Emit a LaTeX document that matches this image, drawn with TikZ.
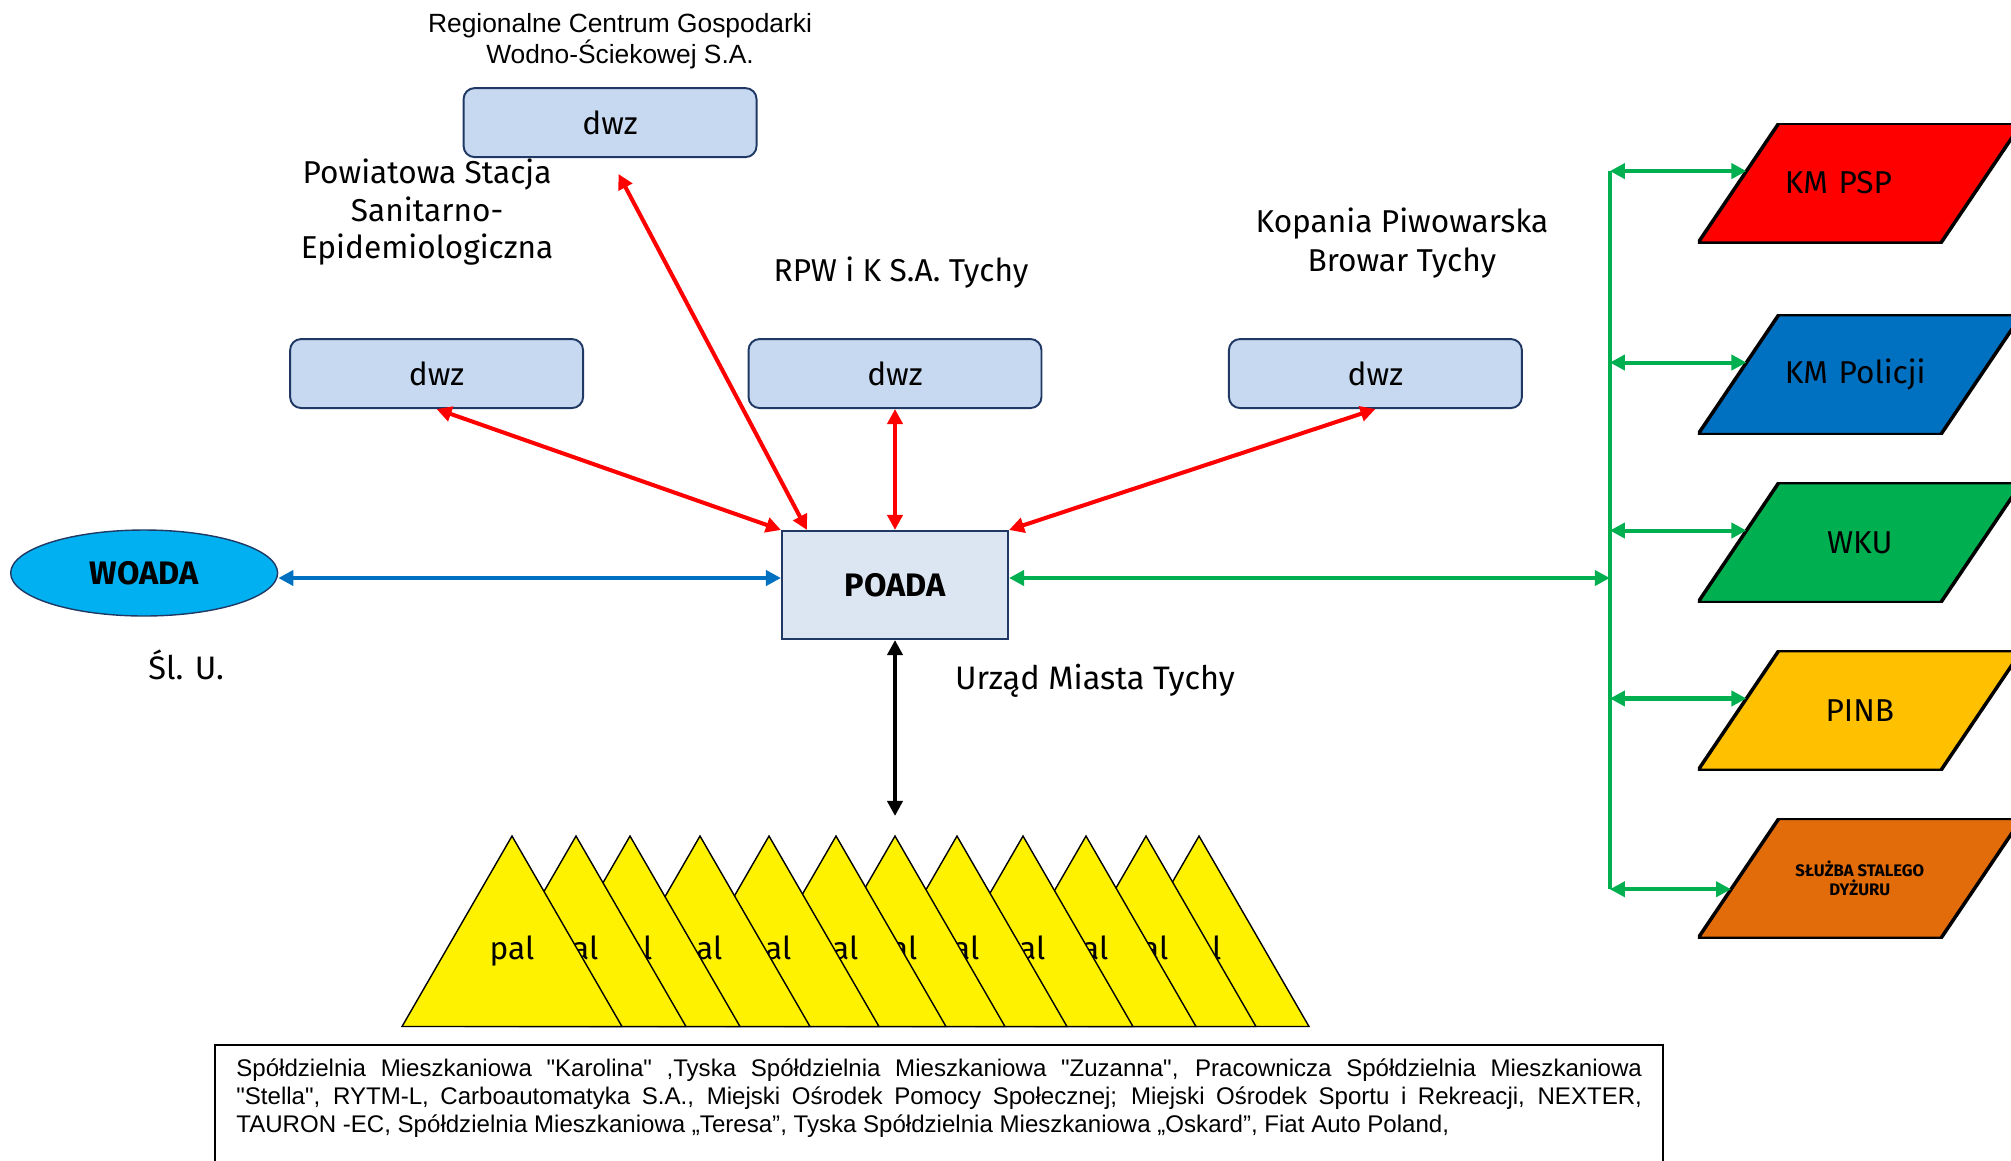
\documentclass[tikz,border=0pt]{standalone}
\usepackage{fontspec}
\setmainfont{Fira Sans}
\newfontfamily\arialfont{Liberation Sans}
\usepackage{tikz}
\usetikzlibrary{positioning, calc, shapes.geometric, arrows.meta}

\definecolor{czerwony}{HTML}{FF0000}
\definecolor{niebieski}{HTML}{0070C0}
\definecolor{zielony}{HTML}{00B050}
\definecolor{blekit}{HTML}{00B0F0}
\definecolor{zolty}{HTML}{FFC000}
\definecolor{pomarancz}{HTML}{E36C0A}
\definecolor{dwzfill}{HTML}{C6D9F1}
\definecolor{poadafill}{HTML}{DCE6F2}
\definecolor{ramka}{HTML}{1F3864}

\tikzset{
  dwz/.style={draw=ramka, line width=1.1pt, fill=dwzfill, rounded corners=0.22cm,
    minimum width=5.86cm, minimum height=1.38cm, font=\fontsize{18}{21.6}\selectfont},
  opis/.style={align=center, font=\fontsize{18}{21.6}\selectfont},
  sluzba/.style={rectangle, minimum width=6.48cm, minimum height=2.4cm,
    inner sep=0pt, outer sep=0pt, fill=white, font=\fontsize{18}{21.6}\selectfont,
    path picture={\filldraw[fill=#1, draw=black, line width=2pt]
      (path picture bounding box.south west) -- ++(4.86cm,0)
      -- (path picture bounding box.north east) -- ++(-4.86cm,0) -- cycle;}},
  pal/.style={regular polygon, regular polygon sides=3, minimum size=5.08cm,
    inner sep=0pt, text depth=0.6cm, draw=black, line width=0.8pt, fill=yellow,
    font=\fontsize{18}{21.6}\selectfont},
  link/.style={<->, >={Triangle[length=0.3cm, width=0.3cm]}, line width=2.3pt},
}

\begin{document}
\begin{tikzpicture}[x=0.02cm, y=-0.02cm, on grid]
    \useasboundingbox (0,0) rectangle (2011,1160);

                % Noeuds principaux
                \node[draw=ramka, line width=1.2pt, fill=poadafill, minimum width=4.52cm,
                  minimum height=2.16cm, font=\bfseries\fontsize{18.5}{22}\selectfont]
                  (poada) at (895,585) {POADA};
                \node[ellipse, draw=ramka, line width=0.8pt, fill=blekit, minimum width=5.34cm,
                  minimum height=1.72cm, inner sep=0pt, font=\bfseries\fontsize{18.5}{22}\selectfont,
                  above left=0.24cm and 15.02cm of poada] (woada) {WOADA};
                \node[dwz, above=4.23cm of poada] (dwzM) {dwz};
                \node[dwz, above left=4.23cm and 9.17cm of poada] (dwzL) {dwz};
                \node[dwz, above right=4.23cm and 9.61cm of poada] (dwzR) {dwz};
                \node[dwz, above left=9.25cm and 5.7cm of poada] (dwzG) {dwz};

                % Opisy
                \node[align=center, font=\arialfont\fontsize{15}{17.6}\selectfont,
                  above right=1.62cm and 0.2cm of dwzG] (rcgws)
                  {Regionalne Centrum Gospodarki\\Wodno-Ściekowej S.A.};
                \node[opis, above left=3.23cm and 0.19cm of dwzL] (psse)
                  {Powiatowa Stacja\\Sanitarno-\\Epidemiologiczna};
                \node[opis, above right=2.03cm and 0.12cm of dwzM] (rpwik) {RPW i K S.A. Tychy};
                \node[opis, font=\fontsize{18}{22.6}\selectfont,
                  above right=2.61cm and 0.53cm of dwzR] (kp)
                  {Kopania Piwowarska\\Browar Tychy};
                \node[opis, font=\fontsize{18.5}{22}\selectfont,
                  below right=1.84cm and 0.84cm of woada] (slu) {Śl. U.};
                \node[opis, font=\fontsize{18.5}{22}\selectfont,
                  below right=1.92cm and 4cm of poada] (umt) {Urząd Miasta Tychy};

                % Sluzby
                \node[sluzba=czerwony, align=left, text width=3cm,
                  above right=8.04cm and 19.3cm of poada] (psp) {KM PSP};
                \node[sluzba=niebieski, align=left, text width=3cm,
                  below=3.83cm of psp] (policja) {KM Policji};
                \node[sluzba=zielony, below=3.36cm of policja] (wku) {WKU};
                \node[sluzba=zolty, below=3.36cm of wku] (pinb) {PINB};
                \node[sluzba=pomarancz, align=center,
                  font=\bfseries\fontsize{9.5}{10.8}\selectfont,
                  below=3.36cm of pinb] (ssd) {SŁUŻBA STALEGO\\DYŻURU};

                \coordinate[above right=0.14cm and 14.3cm of poada] (szyna);
                \coordinate[below=4.62cm of poada] (dol);
                \coordinate (k1) at ($(psp.south west)!0.6!([xshift=1.62cm]psp.north west)$);
                \coordinate (k2) at ($(policja.south west)!0.6!([xshift=1.62cm]policja.north west)$);
                \coordinate (k3) at ($(wku.south west)!0.6!([xshift=1.62cm]wku.north west)$);
                \coordinate (k4) at ($(pinb.south west)!0.6!([xshift=1.62cm]pinb.north west)$);
                \coordinate (k5) at ($(ssd.south west)!0.41!([xshift=1.62cm]ssd.north west)$);

                % Palety
                \foreach \x [count=\i] in {1199,1146,1086,1023,957,895,836,769,700,630,576,512}
                  \node[pal] (pal\i) at (\x,963) {pal};

                % Lista firm
                \node[anchor=north west, text width=28.12cm, align=justify, inner xsep=0.42cm,
                  inner ysep=0.27cm, font=\arialfont\fontsize{13.7}{15.9}\selectfont]
                  (firmy) at (215,1045)
                  {Spółdzielnia Mieszkaniowa "Karolina" ,Tyska Spółdzielnia Mieszkaniowa "Zuzanna", Pracownicza Spółdzielnia Mieszkaniowa\linebreak
                  "Stella", RYTM-L, Carboautomatyka S.A., Miejski Ośrodek Pomocy Społecznej; Miejski Ośrodek Sportu i Rekreacji, NEXTER,\linebreak
                  TAURON -EC, Spółdzielnia Mieszkaniowa „Teresa”, Tyska Spółdzielnia Mieszkaniowa „Oskard”, Fiat Auto Poland,};
                \draw[line width=1.1pt] (firmy.north west) rectangle ([yshift=-2cm]firmy.south east);

                % Polaczenia
                \path[link, czerwony]
                (poada.north west) edge (dwzL.south)
                ([xshift=0.52cm]poada.north west) edge[shorten >=0.36cm] (dwzG.south)
                (poada.north) edge (dwzM.south)
                (poada.north east) edge (dwzR.south);

                \draw[link, niebieski, line width=2.8pt] (woada.east |- szyna) -- (szyna -| poada.west);
                \draw[link, zielony] (szyna -| poada.east) -- (szyna);
                \draw[link, line width=2.6pt] (poada.south) -- (dol);

                \draw[zielony, line width=2.3pt] (szyna |- k1) -- (szyna |- k5);
                \path[link, zielony]
                (szyna |- k1) edge (k1)
                (szyna |- k2) edge (k2)
                (szyna |- k3) edge (k3)
                (szyna |- k4) edge (k4)
                (szyna |- k5) edge (k5);

            \end{tikzpicture}
\end{document}
